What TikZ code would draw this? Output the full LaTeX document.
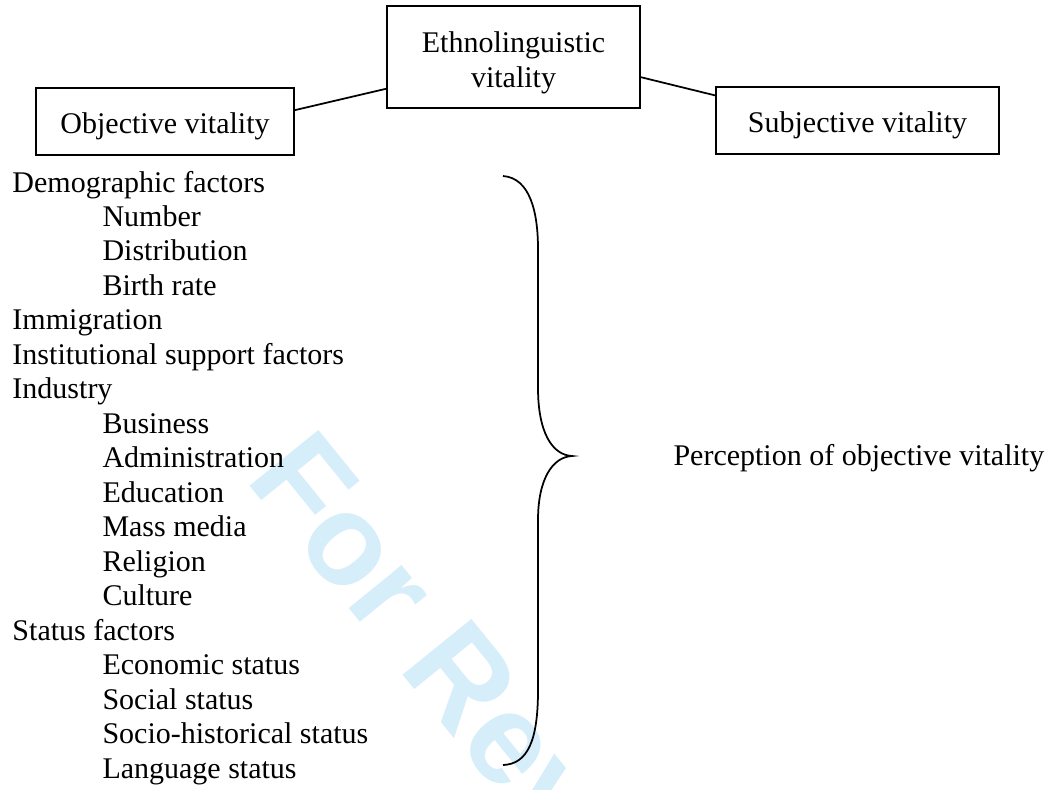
\documentclass[tikz,border=0pt]{standalone}
\usepackage{fontspec}
\setmainfont{Liberation Serif}
\newfontfamily\markfont{Liberation Sans}
\usepackage{tikz}
\usepackage{xcolor}
\definecolor{markCyan}{RGB}{214,238,250}
\definecolor{inkBlack}{RGB}{0,0,0}
\newcommand{\boxstrut}[1]{\rule{0pt}{#1}}
\tikzset{
  vbox/.style={draw=inkBlack,line width=0.6pt,inner sep=0pt,align=center},
  vlink/.style={draw=inkBlack,line width=0.7pt},
  vitem/.style={anchor=base west,inner sep=0pt,text=inkBlack}
}

\begin{document}
\begin{tikzpicture}[x=0.4pt,y=-0.4pt,font=\fontsize{12}{13.8}\selectfont]
\useasboundingbox (0,0) rectangle (1051,789);
% watermark
\begin{scope}
  \clip (0,0) rectangle (1051,789);
  \node[anchor=base west,inner sep=0pt,rotate=-51,text=markCyan,
        font=\markfont\bfseries\fontsize{51.6}{52}\selectfont] (mark) at (244,479) {For Review};
\end{scope}
% the three boxes
\node[vbox,minimum width=101.2pt,minimum height=40.8pt] (ethno) at (513.5,57) {\boxstrut{13pt}Ethnolinguistic\\vitality};
\node[vbox,minimum width=103.2pt,minimum height=26.8pt] (obj) at (165,121.5) {\boxstrut{12.2pt}Objective vitality};
\node[vbox,minimum width=113.2pt,minimum height=26.8pt] (subj) at (857.5,120.5) {\boxstrut{12.2pt}Subjective vitality};
\draw[vlink] (obj.5) -- (ethno.-166);
\draw[vlink] (ethno.-9) -- (subj.170);
% factor list
\foreach \lev/\txt [count=\i from 0] in {0/Demographic factors,1/Number,1/Distribution,1/Birth rate,
    0/Immigration,0/Institutional support factors,0/Industry,1/Business,1/Administration,
    1/Education,1/Mass media,1/Religion,1/Culture,0/Status factors,1/Economic status,
    1/Social status,1/Socio-historical status,1/Language status}{
  \node[vitem] (item\i) at ({12+90*\lev},{192+34.47*\i}) {\txt};
}
% brace
\coordinate (brtop) at (503,176);
\coordinate (brtip) at (572,456);
\coordinate (brbot) at (503,765);
\draw[line width=0.7pt,inkBlack] (brtop) .. controls (530,178) and (538,212) .. (538,249)
  -- (538,388) .. controls (538,432) and (552,455) .. (brtip)
  .. controls (552,457) and (538,480) .. (538,520)
  -- (538,690) .. controls (538,740) and (528,764) .. (brbot);
\node[vitem] (percep) at (673,465) {Perception of objective vitality};
\end{tikzpicture}
\end{document}
